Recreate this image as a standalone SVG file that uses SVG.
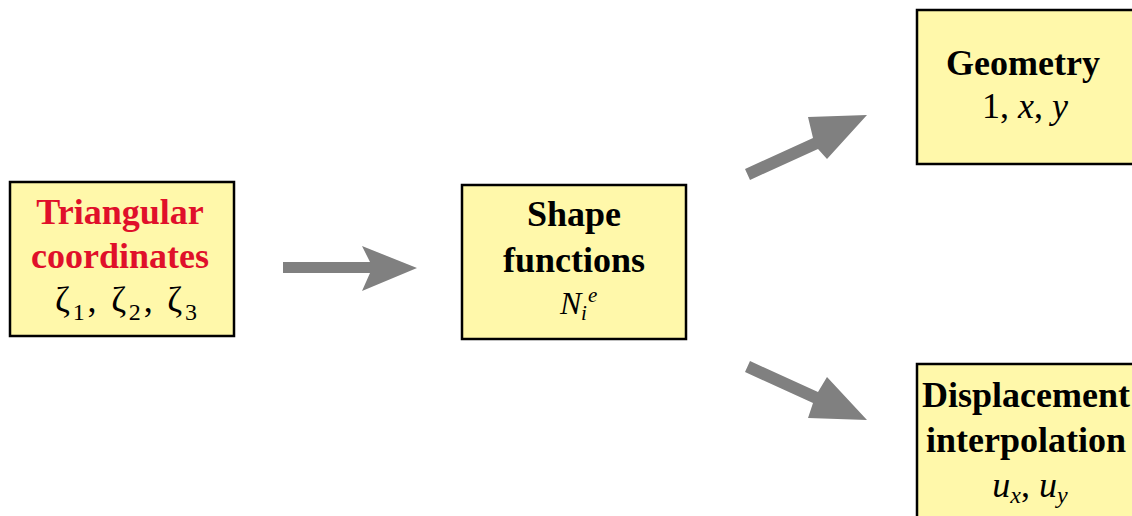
<svg xmlns="http://www.w3.org/2000/svg" width="1132" height="516" viewBox="0 0 1132 516">
<style>
.box{fill:#fff8aa;stroke:#000;stroke-width:2.5}
.t{font-family:"Liberation Serif",serif;font-size:36px;text-anchor:middle}
.m{font-family:"Liberation Serif",serif;font-style:italic;text-anchor:start}
.b{font-weight:bold}
.red{fill:#e0102a}
.arr{fill:#808080}
.i{font-style:italic}
</style>
<rect width="1132" height="516" fill="#fff"/>
<g id="connectors">
<polygon class="arr" points="283,262 370,262 362,246 417,268 362,291 370,273 283,273"/>
<polygon class="arr" points="745,169 813,138 808,117 867,115 827,159 818,149 750,180"/>
<polygon class="arr" points="750,361 818,392 827,377 867,420 808,418 813,403 745,372"/>
</g>
<g id="triangular">
<rect class="box" x="10" y="182" width="224" height="154"/>
<text class="t b red" x="120" y="224">Triangular</text>
<text class="t b red" x="120" y="268">coordinates</text>
<text class="t" x="126" y="312" textLength="142" lengthAdjust="spacing">ζ<tspan font-size="24" dy="8">1</tspan><tspan dy="-8">, ζ</tspan><tspan font-size="24" dy="8">2</tspan><tspan dy="-8">, ζ</tspan><tspan font-size="24" dy="8">3</tspan></text>
</g>
<g id="shape">
<rect class="box" x="462" y="185" width="224" height="154"/>
<text class="t b" x="574" y="226">Shape</text>
<text class="t b" x="574" y="272">functions</text>
<text class="m" x="560" y="314" font-size="32">N</text>
<text class="m" x="581" y="320" font-size="21">i</text>
<text class="m" x="588" y="302" font-size="21">e</text>
</g>
<g id="geometry">
<rect class="box" x="917" y="10" width="230" height="154"/>
<text class="t b" x="1023" y="75">Geometry</text>
<text class="t" x="1025" y="118">1, <tspan class="i">x</tspan>, <tspan class="i">y</tspan></text>
</g>
<g id="displacement">
<rect class="box" x="917" y="364" width="230" height="170"/>
<text class="t b" x="1026" y="407">Displacement</text>
<text class="t b" x="1026" y="452">interpolation</text>
<text class="t i" x="1030" y="497">u<tspan font-size="24" dy="6">x</tspan><tspan font-style="normal" dy="-6">,  </tspan>u<tspan font-size="24" dy="6">y</tspan></text>
</g>
</svg>
